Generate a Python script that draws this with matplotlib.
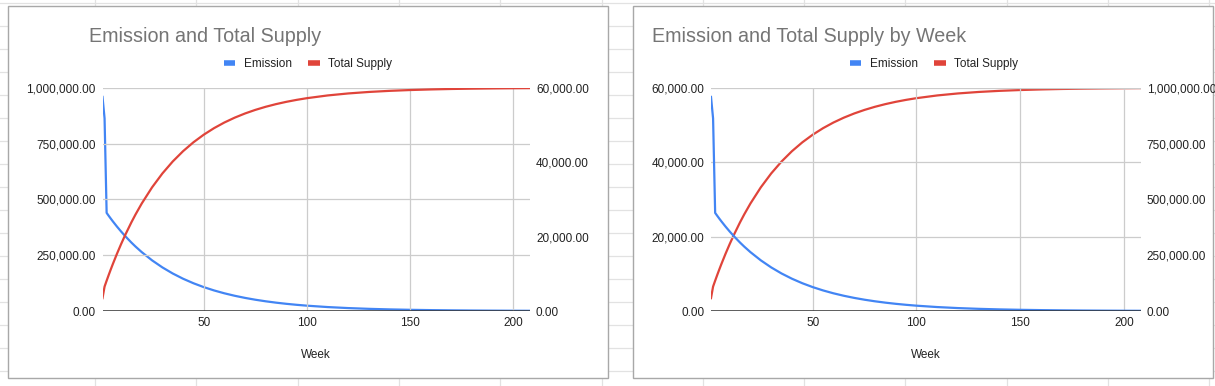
import matplotlib.pyplot as plt
from matplotlib.lines import Line2D
from matplotlib.patches import Rectangle
from matplotlib.ticker import FuncFormatter
import numpy as np

plt.rcParams['font.family'] = ['Liberation Sans', 'DejaVu Sans']

# values
weeks = [1, 2, 3, 4, 5, 6, 8, 10, 12, 15, 17, 20, 25, 30, 35, 40, 45, 50, 55, 60,
         65, 70, 75, 80, 85, 90, 95, 100, 110, 120, 130, 140, 150, 160, 170, 180,
         190, 200, 208]
emission = [57600, 51840, 26400, 25619, 24860, 24124, 22717, 21392, 20145, 18408,
            17334, 15840, 13630, 11730, 10093, 8685, 7474, 6431, 5534, 4762,
            4098, 3526, 3034, 2611, 2247, 1933, 1664, 1432, 1060, 785,
            581, 430, 319, 236, 175, 129, 96, 71, 56]
total_supply = [57600, 109440, 135840, 161455, 186321, 210447, 256567, 299993, 340904, 397824,
                433045, 482037, 554458, 616793, 670431, 716596, 756326, 790489, 819903, 845224,
                866988, 885741, 901851, 915737, 927672, 937955, 946784, 954400, 966583, 975601,
                982272, 987222, 990888, 993599, 995606, 997087, 998193, 999004, 999504]

supply_ticks = [0, 250000, 500000, 750000, 1000000]
emission_ticks = [0, 20000, 40000, 60000]
week_ticks = [50, 100, 150, 200]

titles = ['Emission and Total Supply', 'Emission and Total Supply by Week']

BLUE = '#4285F4'
RED = '#E0443A'
GRID = '#cccccc'
TEXT = '#222222'

W, H = 1215, 386


def fx(px):
    return px / W


def fy(py):
    return 1 - py / H


money = FuncFormatter(lambda v, p: f'{v:,.2f}')


def draw_chart(fig, x0, x1, title, title_x, legend_cx, supply_on_left):
    ax = fig.add_axes([fx(x0), fy(311), fx(x1 - x0), 223 / H])
    tw = ax.twinx()
    ax.set_zorder(3)
    tw.set_zorder(2)
    ax.patch.set_visible(False)
    tw.patch.set_visible(False)

    # the two charts swap which series owns the left axis
    if supply_on_left:
        sup_ax, em_ax = ax, tw
        ax.set_yticks(supply_ticks)
        tw.set_yticks(emission_ticks)
    else:
        sup_ax, em_ax = tw, ax
        ax.set_yticks(emission_ticks)
        tw.set_yticks(supply_ticks)

    em_ax.plot(weeks, emission, color=BLUE, lw=1.6, zorder=3)
    sup_ax.plot(weeks, total_supply, color=RED, lw=1.6, zorder=3)
    sup_ax.set_ylim(0, 1000000)
    em_ax.set_ylim(0, 60000)

    ax.set_xlim(1, 208)
    ax.set_xticks(week_ticks)
    ax.grid(True, color=GRID, lw=0.9)
    ax.set_axisbelow(True)
    ax.axhline(0, color='#333333', lw=1.1, zorder=4)

    for a in (ax, tw):
        for s in a.spines.values():
            s.set_visible(False)
        a.yaxis.set_major_formatter(money)
        a.tick_params(length=0, labelsize=8.5, labelcolor=TEXT)
    ax.tick_params(axis='y', pad=4.8)
    tw.tick_params(axis='y', pad=4.3)
    ax.tick_params(axis='x', pad=4.5)
    ax.set_xlabel('Week', fontsize=8.5, color=TEXT, labelpad=14)

    fig.text(fx(title_x), fy(37), title, fontsize=14.2,
             color='#757575', ha='left', va='center')

    handles = [Line2D([], [], color=BLUE, lw=4, solid_capstyle='butt'),
               Line2D([], [], color=RED, lw=4, solid_capstyle='butt')]
    fig.legend(handles, ['Emission', 'Total Supply'], loc='center',
               bbox_to_anchor=(fx(legend_cx), fy(64)), ncol=2, frameon=False,
               fontsize=8.5, handlelength=1.0, handletextpad=0.7,
               columnspacing=1.4, labelcolor=TEXT)


def main():
    fig = plt.figure(figsize=(W / 100, H / 100), dpi=100)
    fig.patch.set_facecolor('white')

    # spreadsheet cells behind the charts
    bg = fig.add_axes([0, 0, 1, 1], zorder=0)
    bg.set_xlim(0, W)
    bg.set_ylim(H, 0)
    bg.axis('off')
    for x in np.arange(95, W, 101.3):
        bg.axvline(x, color='#e2e2e2', lw=0.9)
    for y in np.arange(3.3, H, 23):
        bg.axhline(y, color='#e2e2e2', lw=0.9)

    # chart boxes
    for bx0, bx1 in [(7.5, 608), (632.5, 1213)]:
        bg.add_patch(Rectangle((bx0, 6.3), bx1 - bx0, 378 - 6.3, facecolor='white',
                               edgecolor='#a8a8a8', lw=1.0, zorder=2))

    draw_chart(fig, 102.5, 530, titles[0], 89, 308, True)
    draw_chart(fig, 711, 1140.6, titles[1], 652.4, 934, False)

    fig.savefig('out.png', dpi=100)


if __name__ == '__main__':
    main()
